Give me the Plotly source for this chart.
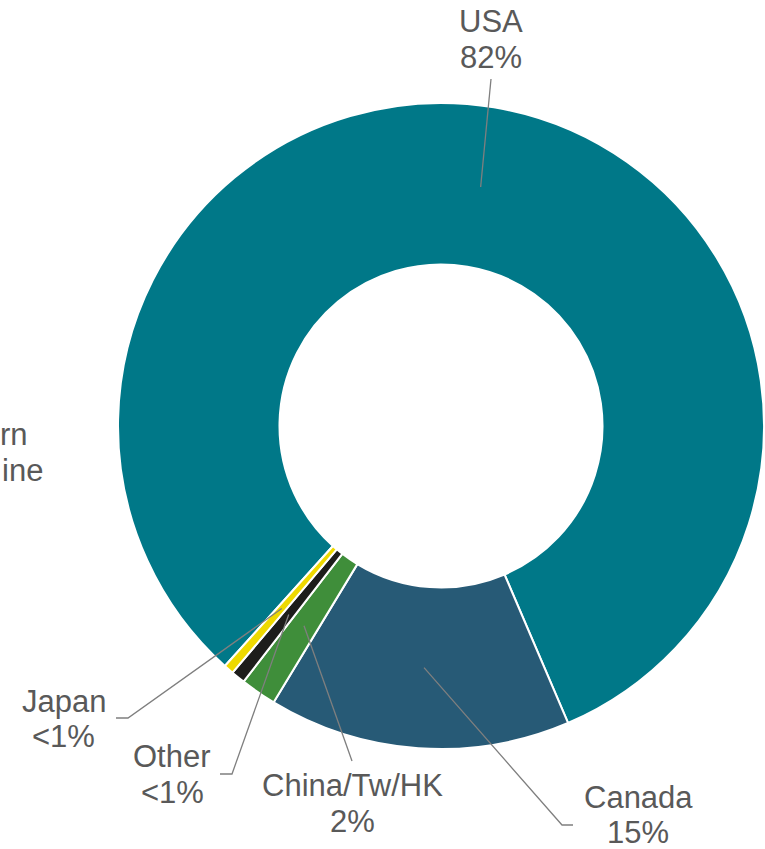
import math
import plotly.graph_objects as go

# Share by region
regions = ["USA", "Canada", "China/Tw/HK", "Other", "Japan"]
shares = [81.9, 15.1, 1.8, 0.7, 0.5]
colors = ["#007888", "#275A76", "#3F8E3A", "#1D1D1B", "#EED900"]

# Label placement (pixel coordinates of the page): text centre x, baselines, leader path
label_x = {"USA": 491, "Canada": 638, "China/Tw/HK": 352, "Other": 172, "Japan": 64}
label_base = {"USA": (33, 68), "Canada": (808, 843), "China/Tw/HK": (796, 832),
              "Other": (767, 803), "Japan": (712, 747)}
leader_tail = {"USA": [(491, 79)], "Canada": [(562, 825), (573, 825)],
               "China/Tw/HK": [(352, 761)], "Other": [(232, 774), (220, 774)],
               "Japan": [(128, 718), (116, 718)]}

W, H = 765, 849
CX, CY, R = 441, 426, 323          # donut centre and outer radius in px
ROTATION = -138                    # start angle of the first slice (deg, clockwise from 12 o'clock)
FONT = "Liberation Sans, Arial, sans-serif"
TEXT_COLOR = "#595959"
FS = 31


def px(x):
    return x / W


def py(y):
    return 1 - y / H


def pct_text(v):
    return "<1%" if v < 1 else f"{round(v):.0f}%"


fig = go.Figure(go.Pie(
    labels=regions,
    values=shares,
    hole=0.5,
    sort=False,
    direction="clockwise",
    rotation=ROTATION,
    marker=dict(colors=colors, line=dict(color="white", width=2)),
    textinfo="none",
    hoverinfo="label+percent",
    showlegend=False,
    domain=dict(x=[px(CX - R), px(CX + R)], y=[py(CY + R), py(CY - R)]),
))

shapes = []
annotations = []
total = sum(shares)
start = ROTATION
for name, v in zip(regions, shares):
    span = v / total * 360
    mid = math.radians(start + span / 2)
    start += span
    # leader starts in the middle of the ring at the slice's mid angle
    x0 = CX + 0.75 * R * math.sin(mid)
    y0 = CY - 0.75 * R * math.cos(mid)
    pts = [(x0, y0)] + leader_tail[name]
    path = "M " + " L ".join(f"{px(x):.5f},{py(y):.5f}" for x, y in pts)
    shapes.append(dict(type="path", xref="paper", yref="paper", path=path,
                       line=dict(color="#7F7F7F", width=1.3)))
    b1, b2 = label_base[name]
    for txt, base in ((name, b1), (pct_text(v), b2)):
        annotations.append(dict(
            text=txt, x=px(label_x[name]), y=py(base - 11), xref="paper", yref="paper",
            xanchor="center", yanchor="middle", showarrow=False,
            font=dict(family=FONT, size=FS, color=TEXT_COLOR)))

# Tail of the neighbouring label at the left edge
for txt, xl, base in (("rn", -2, 445), ("ine", 0, 482)):
    annotations.append(dict(
        text=txt, x=px(xl), y=py(base - 11), xref="paper", yref="paper",
        xanchor="left", yanchor="middle", showarrow=False,
        font=dict(family=FONT, size=FS, color=TEXT_COLOR)))

fig.update_layout(
    width=W, height=H,
    margin=dict(l=0, r=0, t=0, b=0),
    paper_bgcolor="white", plot_bgcolor="white",
    shapes=shapes, annotations=annotations,
)

fig.write_html("out.html")
